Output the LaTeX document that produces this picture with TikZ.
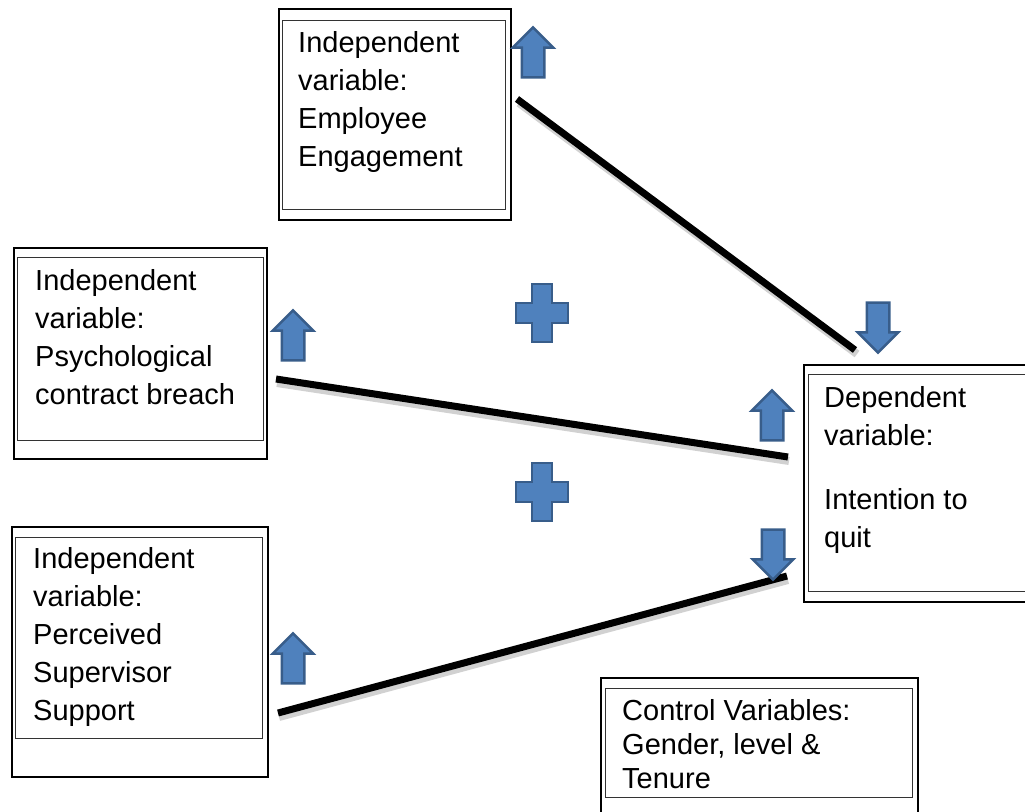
\documentclass[tikz,border=0pt]{standalone}
\usepackage{fontspec}
\setmainfont{Liberation Sans}
\usepackage{xcolor}
\usepackage{tikz}
\usetikzlibrary{positioning,shapes.arrows}

\definecolor{arrowfill}{HTML}{4F81BD}
\definecolor{arrowedge}{HTML}{385D8A}

\begin{document}
\begin{tikzpicture}[x=1pt, y=-1pt,
	outerbox/.style={draw, line width=1.8pt, anchor=north west, inner sep=0pt},
	innerbox/.style={draw, black!80, line width=1.2pt, anchor=north west, inner sep=0pt},
	boxtext/.style={anchor=north west, inner sep=0pt, align=left, font=\fontsize{29}{38}\selectfont},
	blockarrow/.style={single arrow, draw=arrowedge, fill=arrowfill, line width=2.5pt,
		minimum height=50pt, inner sep=10pt, single arrow head extend=9pt,
		single arrow head indent=0pt},
	plussign/.style={draw=arrowedge, fill=arrowfill, line width=2.5pt, line join=miter},
	link/.style={line width=7pt},
	linkshadow/.style={line width=8pt, black!30, opacity=0.6}]
	\useasboundingbox (0,0) rectangle (1025,811);

		% variable boxes
		\node[outerbox, minimum width=232pt, minimum height=211pt] (ee) at (278,8) {};
		\node[innerbox, minimum width=223pt, minimum height=189pt] (ee-in) at (282,20) {};
		\node[boxtext] (ee-text) at (298,31) {Independent\\variable:\\Employee\\Engagement};

		\node[outerbox, minimum width=253pt, minimum height=211pt] (pcb) at (13,247) {};
		\node[innerbox, minimum width=246pt, minimum height=183pt] (pcb-in) at (17,257) {};
		\node[boxtext] (pcb-text) at (35,269) {Independent\\variable:\\Psychological\\contract breach};

		\node[outerbox, minimum width=256pt, minimum height=250pt] (pss) at (11,526) {};
		\node[innerbox, minimum width=247pt, minimum height=201pt] (pss-in) at (15,537) {};
		\node[boxtext] (pss-text) at (33,547) {Independent\\variable:\\Perceived\\Supervisor\\Support};

		\node[outerbox, minimum width=240pt, minimum height=237pt] (itq) at (803,364) {};
		\node[innerbox, minimum width=235pt, minimum height=217pt] (itq-in) at (808,374) {};
		\node[boxtext] (itq-text) at (824,386) {Dependent\\variable:\\[26pt]Intention to\\quit};

		\node[outerbox, minimum width=317pt, minimum height=150pt] (cv) at (600,677) {};
		\node[innerbox, minimum width=307pt, minimum height=109pt] (cv-in) at (605,688) {};
		\node[boxtext, font=\fontsize{29}{34}\selectfont] (cv-text) at (622,699) {Control Variables:\\Gender, level \&\\Tenure};

		% link ends
		\coordinate (ee-end) at (517,99);
		\coordinate (itq-top) at (855,350);
		\coordinate (pcb-end) at (276,379);
		\coordinate (itq-mid) at (788,457);
		\coordinate (pss-end) at (278,713);
		\coordinate (itq-low) at (787,576);

		\draw[linkshadow] ([shift={(2,4)}]ee-end) -- ([shift={(2,4)}]itq-top);
		\draw[linkshadow] ([shift={(1,4)}]pcb-end) -- ([shift={(1,4)}]itq-mid);
		\draw[linkshadow] ([shift={(1,4)}]pss-end) -- ([shift={(1,4)}]itq-low);
		\draw[link] (ee-end) -- (itq-top);
		\draw[link] (pcb-end) -- (itq-mid);
		\draw[link] (pss-end) -- (itq-low);

		% direction arrows
		\node[blockarrow, rotate=90] (up-ee) at (533,58) {};
		\node[blockarrow, rotate=-90] (down-top) at (878,322) {};
		\node[blockarrow, rotate=90] (up-pcb) at (293,341) {};
		\node[blockarrow, rotate=90] (up-itq) at (772,421) {};
		\node[blockarrow, rotate=-90] (down-low) at (773,549) {};
		\node[blockarrow, rotate=90] (up-pss) at (293,664) {};

		% plus signs
		\draw[plussign] (542,313) ++(-10,-29) -- ++(20,0) -- ++(0,19) -- ++(16,0) -- ++(0,20)
			-- ++(-16,0) -- ++(0,19) -- ++(-20,0) -- ++(0,-19) -- ++(-16,0) -- ++(0,-20) -- ++(16,0) -- cycle;
		\draw[plussign] (542,492) ++(-10,-29) -- ++(20,0) -- ++(0,19) -- ++(16,0) -- ++(0,20)
			-- ++(-16,0) -- ++(0,19) -- ++(-20,0) -- ++(0,-19) -- ++(-16,0) -- ++(0,-20) -- ++(16,0) -- cycle;
	\end{tikzpicture}
\end{document}
